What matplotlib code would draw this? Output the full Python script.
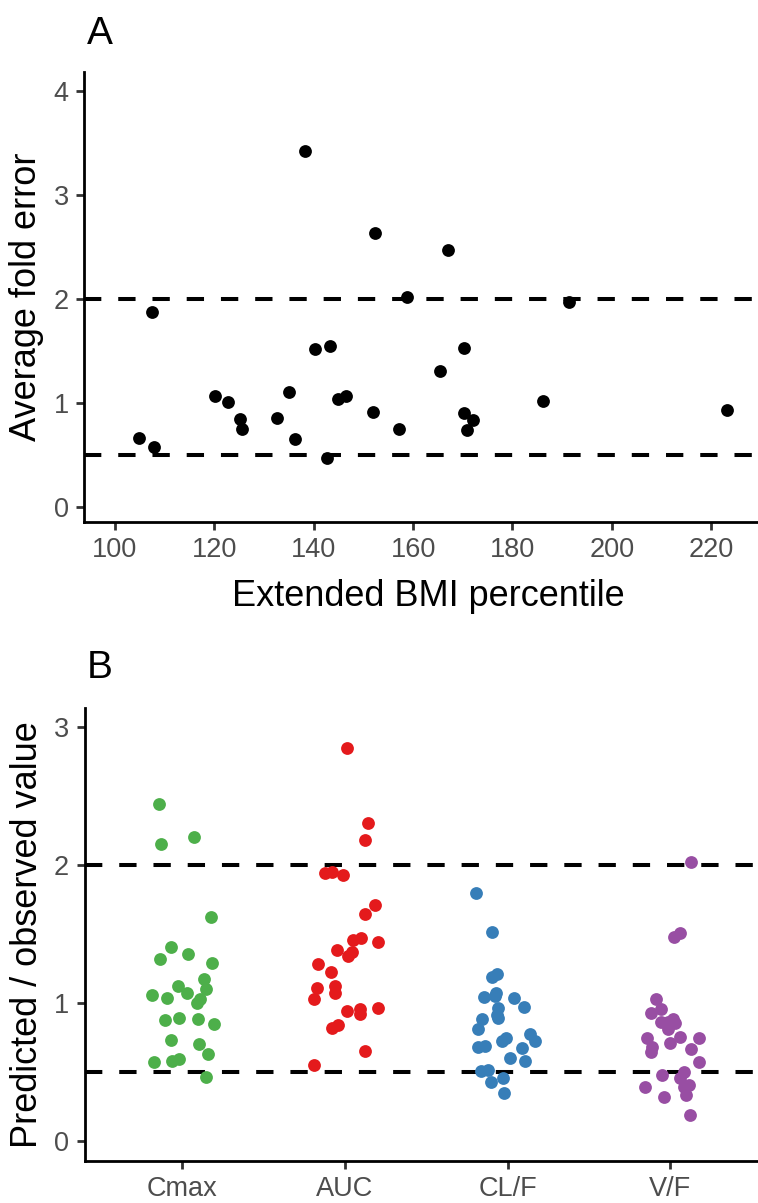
import matplotlib
matplotlib.use("Agg")
import matplotlib.pyplot as plt

plt.rcParams['font.family'] = ['Liberation Sans', 'DejaVu Sans']

# Panel A: extended BMI percentile vs average fold error
bmi_percentile = [138.2, 152.4, 158.7, 107.5, 140.3, 143.3, 120.1, 122.8, 125.2, 125.6,
                  135.0, 132.7, 136.2, 142.6, 144.8, 146.6, 151.9, 157.1, 104.9, 107.8,
                  167.1, 191.3, 170.2, 165.4, 186.1, 170.3, 172.0, 170.8, 223.1]
fold_error = [3.43, 2.64, 2.02, 1.88, 1.52, 1.55, 1.07, 1.01, 0.85, 0.75,
              1.11, 0.86, 0.65, 0.47, 1.04, 1.07, 0.91, 0.75, 0.66, 0.58,
              2.47, 1.97, 1.53, 1.31, 1.02, 0.90, 0.84, 0.74, 0.93]

# Panel B: predicted / observed ratio per PK parameter (x = jittered category position)
categories = ['Cmax', 'AUC', 'CL/F', 'V/F']
colors = ['#4DAF4A', '#E41A1C', '#377EB8', '#984EA3']

cmax_x = [0.855, 0.873, 1.074, 1.180, 0.934, 0.865, 1.037, 1.184, 1.133, 1.149,
          0.973, 1.028, 0.816, 0.906, 1.107, 1.093, 0.893, 0.979, 1.097, 1.195,
          0.929, 1.102, 1.161, 0.825, 0.937, 0.980, 1.145]
cmax_y = [2.447, 2.155, 2.203, 1.623, 1.405, 1.318, 1.359, 1.293, 1.177, 1.100,
          1.124, 1.071, 1.061, 1.035, 1.028, 0.998, 0.877, 0.894, 0.885, 0.848,
          0.730, 0.701, 0.631, 0.575, 0.582, 0.597, 0.462]

auc_x = [2.013, 2.144, 2.126, 1.879, 1.923, 1.987, 2.187, 2.122, 2.050, 2.097,
         2.202, 1.950, 2.044, 2.017, 1.835, 1.913, 1.831, 1.939, 1.941, 1.813,
         2.015, 2.091, 2.093, 2.202, 1.920, 1.956, 2.126, 1.813]
auc_y = [2.849, 2.307, 2.184, 1.946, 1.951, 1.927, 1.714, 1.646, 1.458, 1.470,
         1.446, 1.385, 1.373, 1.342, 1.284, 1.226, 1.112, 1.126, 1.071, 1.032,
         0.940, 0.955, 0.921, 0.964, 0.819, 0.839, 0.655, 0.549]

clf_x = [2.806, 2.904, 2.937, 2.901, 2.931, 2.921, 2.852, 3.042, 3.101, 2.941,
         2.937, 2.941, 2.845, 2.817, 3.136, 3.166, 2.990, 2.966, 2.821, 2.864,
         3.086, 3.012, 3.107, 2.835, 2.880, 2.972, 2.895, 2.980]
clf_y = [1.801, 1.514, 1.211, 1.192, 1.075, 1.052, 1.044, 1.035, 0.970, 0.962,
         0.914, 0.894, 0.887, 0.812, 0.776, 0.727, 0.745, 0.723, 0.679, 0.691,
         0.672, 0.604, 0.582, 0.507, 0.514, 0.454, 0.430, 0.348]

vf_x = [4.127, 4.020, 4.057, 3.912, 3.945, 3.881, 3.945, 3.983, 4.017, 4.026,
        3.983, 4.061, 4.173, 3.856, 3.995, 3.887, 3.881, 4.129, 4.173, 4.081,
        3.951, 4.061, 4.112, 4.081, 3.842, 4.094, 3.959, 4.121]
vf_y = [2.024, 1.477, 1.506, 1.028, 0.957, 0.931, 0.861, 0.865, 0.882, 0.853,
        0.810, 0.756, 0.749, 0.745, 0.713, 0.679, 0.643, 0.665, 0.570, 0.502,
        0.476, 0.454, 0.406, 0.393, 0.389, 0.333, 0.316, 0.188]

ref_lines = [0.5, 2]

W, H = 758, 1203


# Helper to place an axes using pixel coordinates (left, top, right, bottom)
def add_axes_px(fig, left, top, right, bottom):
    return fig.add_axes([left / W, 1 - bottom / H, (right - left) / W, (bottom - top) / H])


# Classic ggplot-like styling: only left/bottom axis lines
def style_axes(ax):
    for side in ['top', 'right']:
        ax.spines[side].set_visible(False)
    for side in ['left', 'bottom']:
        ax.spines[side].set_linewidth(2.0)
        ax.spines[side].set_color('black')
    ax.tick_params(axis='both', length=6, width=2, color='#333333',
                   labelsize=19.5, labelcolor='#4D4D4D', pad=5)
    for y in ref_lines:
        ax.axhline(y, color='black', lw=2.9, linestyle=(0, (4.3, 4.2)), zorder=1)


fig = plt.figure(figsize=(W / 100, H / 100), dpi=100)

# Panel A (panel runs a little past the right edge, as in the cropped original)
ax1 = add_axes_px(fig, 84, 71.7, 768, 521.5)
style_axes(ax1)
ax1.scatter(bmi_percentile, fold_error, s=85, color='black', linewidths=0, zorder=3)
ax1.set_xlim(93.8, 231.4)
ax1.set_ylim(-0.14, 4.19)
ax1.set_xticks(range(100, 221, 20))
ax1.set_yticks([0, 1, 2, 3, 4])
ax1.set_xlabel('Extended BMI percentile', fontsize=26)
ax1.xaxis.set_label_coords(0.503, -0.128)
ax1.set_ylabel('Average fold error', fontsize=26)
ax1.yaxis.set_label_coords(-0.058, 0.5)
fig.text(87 / W, 1 - 34 / H, 'A', fontsize=28, va='center', ha='left')

# Panel B
ax2 = add_axes_px(fig, 84.5, 708, 768, 1161)
style_axes(ax2)
for xs, ys, c in zip([cmax_x, auc_x, clf_x, vf_x], [cmax_y, auc_y, clf_y, vf_y], colors):
    ax2.scatter(xs, ys, s=85, color=c, linewidths=0, zorder=3)
ax2.set_xlim(0.4, 4.6)
ax2.set_ylim(-0.146, 3.14)
ax2.set_xticks(range(1, len(categories) + 1))
ax2.set_xticklabels(categories)
ax2.set_yticks([0, 1, 2, 3])
ax2.set_ylabel('Predicted / observed value', fontsize=26)
ax2.yaxis.set_label_coords(-0.058, 0.5)
fig.text(87 / W, 1 - 668 / H, 'B', fontsize=28, va='center', ha='left')

fig.savefig('out.png', dpi=100)
